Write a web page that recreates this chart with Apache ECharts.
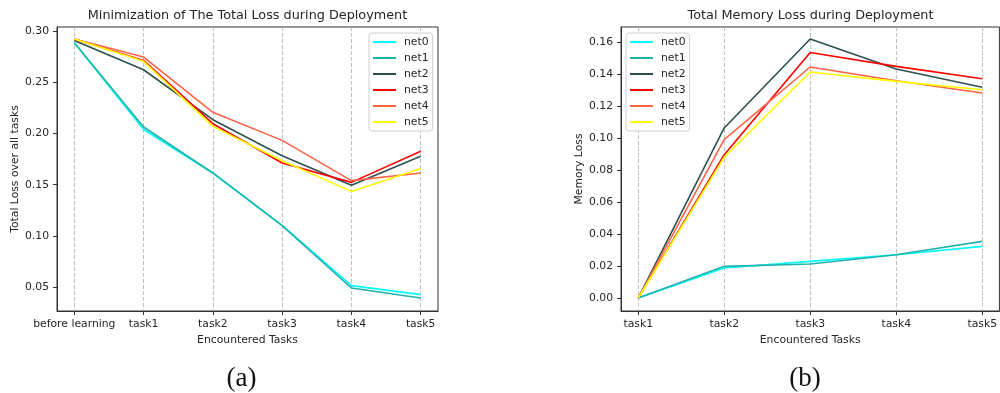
<!DOCTYPE html>
<html>
<head>
<meta charset="utf-8">
<script src="https://cdn.jsdelivr.net/npm/echarts@6/dist/echarts.min.js"></script>
<style>
html,body{margin:0;padding:0;background:#fff;}
#c{width:1000px;height:393px;}
</style>
</head>
<body>
<div id="c"></div>
<script>
// ---- Data: panel (a) ----
const catsA = ['before learning', 'task1', 'task2', 'task3', 'task4', 'task5'];
const a_net0 = [0.289, 0.204, 0.1615, 0.1103, 0.0513, 0.0425];
const a_net1 = [0.289, 0.2065, 0.1615, 0.1100, 0.0490, 0.0392];
const a_net2 = [0.291, 0.2625, 0.2136, 0.1784, 0.1494, 0.1778];
const a_net3 = [0.2925, 0.2716, 0.2097, 0.1713, 0.1523, 0.1827];
const a_net4 = [0.2925, 0.2749, 0.2208, 0.1934, 0.1540, 0.1615];
const a_net5 = [0.2925, 0.2707, 0.2071, 0.1735, 0.1435, 0.1660];
const yTicksA = [0.05, 0.10, 0.15, 0.20, 0.25, 0.30];

// ---- Data: panel (b) ----
const catsB = ['task1', 'task2', 'task3', 'task4', 'task5'];
const b_net0 = [0, 0.0188, 0.0229, 0.0271, 0.0323];
const b_net1 = [0, 0.0198, 0.0213, 0.0271, 0.0354];
const b_net2 = [0, 0.1063, 0.1619, 0.1431, 0.1317];
const b_net3 = [0, 0.0896, 0.1535, 0.1448, 0.1371];
const b_net4 = [0, 0.0990, 0.1444, 0.1358, 0.1281];
const b_net5 = [0, 0.0881, 0.1413, 0.1354, 0.1302];
const yTicksB = [0.00, 0.02, 0.04, 0.06, 0.08, 0.10, 0.12, 0.14, 0.16];

const names = ['net0', 'net1', 'net2', 'net3', 'net4', 'net5'];
const colors = ['#00ffff', '#20b2aa', '#2f4f4f', '#ff0000', '#ff6347', '#ffff00'];
const seriesA = [a_net0, a_net1, a_net2, a_net3, a_net4, a_net5];
const seriesB = [b_net0, b_net1, b_net2, b_net3, b_net4, b_net5];

const FONT = 'DejaVu Sans';
const TXT = '#262626';
const FS = 10.8;

function xAxisFor(idx, cats, min, max) {
  const vals = cats.map((c, i) => i);
  return {
    gridIndex: idx, type: 'value', min: min, max: max,
    name: 'Encountered Tasks', nameLocation: 'middle', nameGap: 21,
    nameTextStyle: {fontFamily: FONT, fontSize: FS, color: TXT},
    axisLine: {show: true, onZero: false, lineStyle: {color: '#333', width: 1}},
    axisTick: {show: true, length: 4, customValues: vals, lineStyle: {color: '#333'}},
    axisLabel: {customValues: vals, margin: 8, fontFamily: FONT, fontSize: FS, color: TXT,
      formatter: v => cats[Math.round(v)]},
    splitLine: {show: true, lineStyle: {color: '#b0b0b0', type: [4, 2], width: 0.8}}
  };
}
function yAxisFor(idx, name, ticks, min, max) {
  return {
    gridIndex: idx, type: 'value', min: min, max: max,
    name: name, nameLocation: 'middle', nameGap: 36,
    nameTextStyle: {fontFamily: FONT, fontSize: FS, color: TXT},
    axisLine: {show: true, onZero: false, lineStyle: {color: '#333', width: 1}},
    axisTick: {show: true, length: 4, customValues: ticks, lineStyle: {color: '#333'}},
    axisLabel: {customValues: ticks, margin: 8, fontFamily: FONT, fontSize: FS, color: TXT,
      formatter: v => Number(v).toFixed(2)},
    splitLine: {show: false}
  };
}
function legendFor(left) {
  return {
    left: left, top: 33, orient: 'vertical',
    data: names.map(n => ({name: n})),
    itemWidth: 23, itemHeight: 2, itemGap: 4,
    padding: [3, 4, 3, 4],
    backgroundColor: '#fff', borderColor: '#d0d0d0', borderWidth: 1, borderRadius: 3,
    textStyle: {fontFamily: FONT, fontSize: FS, color: TXT, padding: [0, 0, 0, 3], lineHeight: 12},
    icon: 'rect'
  };
}

const series = [];
seriesA.forEach((arr, k) => series.push({
  name: names[k], type: 'line', xAxisIndex: 0, yAxisIndex: 0, symbol: 'none',
  lineStyle: {width: 1.6, color: colors[k]}, itemStyle: {color: colors[k]},
  data: catsA.map((c, i) => [i, arr[i]]), animation: false
}));
seriesB.forEach((arr, k) => series.push({
  name: names[k] + ' ', type: 'line', xAxisIndex: 1, yAxisIndex: 1, symbol: 'none',
  lineStyle: {width: 1.6, color: colors[k]}, itemStyle: {color: colors[k]},
  data: catsB.map((c, i) => [i, arr[i]]), animation: false
}));

const legA = legendFor(369);
const legB = legendFor(626);
legB.data = names.map(n => ({name: n + ' '}));
legB.formatter = n => n.trim();

const option = {
  animation: false,
  backgroundColor: '#fff',
  title: [
    {text: 'Minimization of The Total Loss during Deployment', left: 247.5, top: 9, textAlign: 'center', padding: 0,
      textStyle: {fontFamily: FONT, fontSize: 12.8, fontWeight: 'normal', color: TXT}},
    {text: 'Total Memory Loss during Deployment', left: 810.5, top: 9, textAlign: 'center', padding: 0,
      textStyle: {fontFamily: FONT, fontSize: 12.8, fontWeight: 'normal', color: TXT}},
    {text: '(a)', left: 241.5, top: 365, textAlign: 'center', padding: 0,
      textStyle: {fontFamily: 'Liberation Serif', fontSize: 27, fontWeight: 'normal', color: '#111'}},
    {text: '(b)', left: 805, top: 365, textAlign: 'center', padding: 0,
      textStyle: {fontFamily: 'Liberation Serif', fontSize: 27, fontWeight: 'normal', color: '#111'}}
  ],
  grid: [
    {left: 57, top: 27, width: 381, height: 284, show: true, borderColor: '#333', borderWidth: 1, backgroundColor: 'transparent'},
    {left: 621, top: 27, width: 381, height: 284, show: true, borderColor: '#333', borderWidth: 1, backgroundColor: 'transparent'}
  ],
  legend: [legA, legB],
  xAxis: [xAxisFor(0, catsA, -0.25, 5.25), xAxisFor(1, catsB, -0.2, 4.2)],
  yAxis: [yAxisFor(0, 'Total Loss over all tasks', yTicksA, 0.0265, 0.3043),
          yAxisFor(1, 'Memory Loss', yTicksB, -0.0081, 0.1694)],
  series: series
};
const chart = echarts.init(document.getElementById('c'), null, {renderer: 'canvas'});
chart.setOption(option);
</script>
</body>
</html>
